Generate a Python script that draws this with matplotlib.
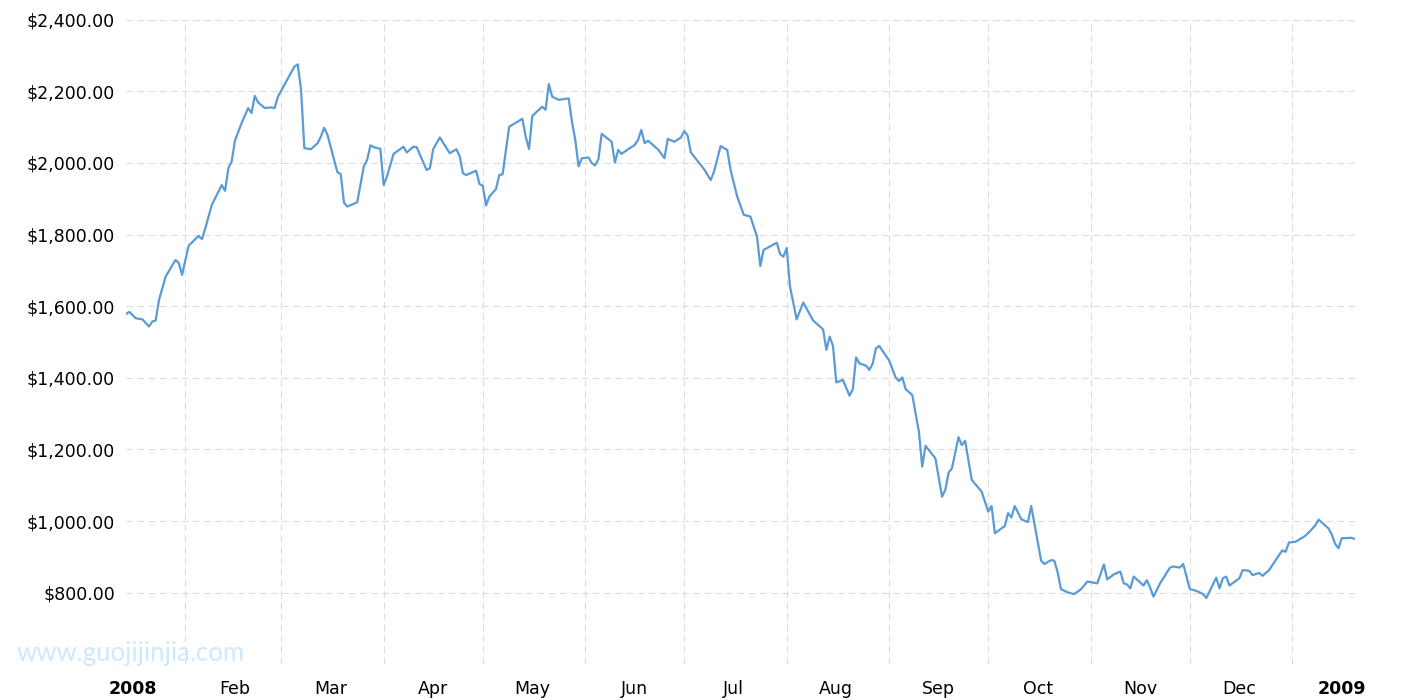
import matplotlib
matplotlib.use("Agg")
import matplotlib.pyplot as plt
import matplotlib.ticker as mticker
import pandas as pd

# Price readings (USD), one per date
dates = [
    "2008-01-14", "2008-01-15", "2008-01-17", "2008-01-19", "2008-01-21", "2008-01-22",
    "2008-01-23", "2008-01-24", "2008-01-26", "2008-01-29", "2008-01-30", "2008-01-31",
    "2008-02-01", "2008-02-02", "2008-02-05", "2008-02-06", "2008-02-07", "2008-02-09",
    "2008-02-12", "2008-02-13", "2008-02-14", "2008-02-15", "2008-02-16", "2008-02-18",
    "2008-02-20", "2008-02-21", "2008-02-22", "2008-02-23", "2008-02-25", "2008-02-27",
    "2008-02-28", "2008-02-29", "2008-03-05", "2008-03-06", "2008-03-07", "2008-03-08",
    "2008-03-10", "2008-03-12", "2008-03-13", "2008-03-14", "2008-03-15", "2008-03-18",
    "2008-03-19", "2008-03-20", "2008-03-21", "2008-03-24", "2008-03-26", "2008-03-27",
    "2008-03-28", "2008-03-29", "2008-03-31", "2008-04-01", "2008-04-02", "2008-04-04",
    "2008-04-07", "2008-04-08", "2008-04-10", "2008-04-11", "2008-04-14", "2008-04-15",
    "2008-04-16", "2008-04-18", "2008-04-21", "2008-04-23", "2008-04-24", "2008-04-25",
    "2008-04-26", "2008-04-29", "2008-04-30", "2008-05-01", "2008-05-02", "2008-05-03",
    "2008-05-05", "2008-05-06", "2008-05-07", "2008-05-09", "2008-05-13", "2008-05-14",
    "2008-05-15", "2008-05-16", "2008-05-19", "2008-05-20", "2008-05-21", "2008-05-22",
    "2008-05-24", "2008-05-27", "2008-05-28", "2008-05-29", "2008-05-30", "2008-05-31",
    "2008-06-02", "2008-06-03", "2008-06-04", "2008-06-05", "2008-06-06", "2008-06-09",
    "2008-06-10", "2008-06-11", "2008-06-12", "2008-06-14", "2008-06-16", "2008-06-17",
    "2008-06-18", "2008-06-19", "2008-06-20", "2008-06-23", "2008-06-25", "2008-06-26",
    "2008-06-28", "2008-06-30", "2008-07-01", "2008-07-02", "2008-07-03", "2008-07-07",
    "2008-07-09", "2008-07-10", "2008-07-12", "2008-07-14", "2008-07-15", "2008-07-17",
    "2008-07-19", "2008-07-21", "2008-07-23", "2008-07-24", "2008-07-25", "2008-07-29",
    "2008-07-30", "2008-07-31", "2008-08-01", "2008-08-02", "2008-08-04", "2008-08-06",
    "2008-08-09", "2008-08-12", "2008-08-13", "2008-08-14", "2008-08-15", "2008-08-16",
    "2008-08-18", "2008-08-20", "2008-08-21", "2008-08-22", "2008-08-23", "2008-08-25",
    "2008-08-26", "2008-08-27", "2008-08-28", "2008-08-29", "2008-09-01", "2008-09-03",
    "2008-09-04", "2008-09-05", "2008-09-06", "2008-09-08", "2008-09-10", "2008-09-11",
    "2008-09-12", "2008-09-15", "2008-09-17", "2008-09-18", "2008-09-19", "2008-09-20",
    "2008-09-22", "2008-09-23", "2008-09-24", "2008-09-26", "2008-09-29", "2008-10-01",
    "2008-10-02", "2008-10-03", "2008-10-06", "2008-10-07", "2008-10-08", "2008-10-09",
    "2008-10-11", "2008-10-13", "2008-10-14", "2008-10-17", "2008-10-18", "2008-10-20",
    "2008-10-21", "2008-10-22", "2008-10-23", "2008-10-25", "2008-10-27", "2008-10-29",
    "2008-10-31", "2008-11-03", "2008-11-05", "2008-11-06", "2008-11-08", "2008-11-10",
    "2008-11-11", "2008-11-12", "2008-11-13", "2008-11-14", "2008-11-17", "2008-11-18",
    "2008-11-19", "2008-11-20", "2008-11-22", "2008-11-25", "2008-11-26", "2008-11-28",
    "2008-11-29", "2008-12-01", "2008-12-03", "2008-12-05", "2008-12-06", "2008-12-09",
    "2008-12-10", "2008-12-11", "2008-12-12", "2008-12-13", "2008-12-16", "2008-12-17",
    "2008-12-19", "2008-12-20", "2008-12-22", "2008-12-23", "2008-12-25", "2008-12-27",
    "2008-12-29", "2008-12-30", "2008-12-31", "2009-01-02", "2009-01-05", "2009-01-06",
    "2009-01-08", "2009-01-09", "2009-01-12", "2009-01-13", "2009-01-14", "2009-01-15",
    "2009-01-16", "2009-01-19", "2009-01-20",
]
prices = [
    1578, 1584, 1566, 1563, 1543, 1557,
    1560, 1617, 1682, 1729, 1720, 1687,
    1729, 1769, 1796, 1787, 1817, 1883,
    1938, 1922, 1985, 2004, 2062, 2111,
    2153, 2139, 2187, 2169, 2153, 2155,
    2153, 2185, 2269, 2275, 2204, 2041,
    2038, 2055, 2073, 2098, 2078, 1974,
    1969, 1889, 1878, 1890, 1990, 2008,
    2049, 2044, 2039, 1938, 1962, 2025,
    2045, 2029, 2045, 2044, 1980, 1985,
    2038, 2071, 2027, 2038, 2019, 1971,
    1966, 1978, 1941, 1936, 1881, 1906,
    1927, 1966, 1968, 2101, 2123, 2073,
    2039, 2131, 2157, 2148, 2220, 2185,
    2176, 2180, 2115, 2064, 1990, 2013,
    2015, 1999, 1993, 2010, 2081, 2059,
    2001, 2036, 2025, 2038, 2050, 2064,
    2092, 2055, 2062, 2038, 2013, 2067,
    2059, 2071, 2089, 2076, 2029, 1982,
    1952, 1976, 2047, 2036, 1980, 1906,
    1855, 1850, 1794, 1712, 1757, 1777,
    1745, 1738, 1762, 1654, 1563, 1610,
    1560, 1535, 1478, 1515, 1489, 1387,
    1394, 1350, 1368, 1457, 1440, 1434,
    1422, 1439, 1482, 1489, 1448, 1400,
    1391, 1401, 1368, 1352, 1250, 1152,
    1210, 1175, 1068, 1087, 1135, 1147,
    1234, 1212, 1224, 1115, 1082, 1026,
    1042, 966, 986, 1022, 1010, 1042,
    1005, 997, 1042, 889, 880, 891,
    889, 857, 810, 801, 796, 809,
    831, 826, 879, 837, 851, 859,
    826, 823, 812, 845, 820, 835,
    814, 789, 826, 870, 873, 870,
    880, 810, 805, 796, 785, 842,
    812, 840, 845, 820, 840, 863,
    861, 849, 855, 847, 863, 891,
    918, 914, 940, 942, 959, 968,
    988, 1004, 979, 962, 936, 924,
    952, 953, 950,
]
month_labels = ["2008", "Feb", "Mar", "Apr", "May", "Jun", "Jul",
                "Aug", "Sep", "Oct", "Nov", "Dec", "2009"]

x = pd.to_datetime(dates)

plt.rcParams["font.family"] = ["DejaVu Sans"]
fig = plt.figure(figsize=(14.15, 7.0), dpi=100)
ax = fig.add_axes([0.089, 0.051, 0.8686, 0.921])

ax.plot(x, prices, color="#5b9bd5", linewidth=1.6, solid_joinstyle="round")

# y axis: dollar labels, no label on the bottom line
ax.yaxis.set_major_locator(mticker.MultipleLocator(200))
ax.yaxis.set_major_formatter(mticker.FuncFormatter(
    lambda v, p: "" if v < 700 else "${:,.2f}".format(v)))

# x axis: gridlines at month starts, labels in the middle of each month
month_starts = pd.date_range("2008-01-01", "2009-01-01", freq="MS")
ax.set_xticks(month_starts[1:])
ax.set_xticklabels([])
mids = month_starts + pd.Timedelta(days=15)
ax.set_xticks(mids, minor=True)
ax.set_xticklabels(month_labels, minor=True)
for lab in ax.get_xticklabels(minor=True):
    if lab.get_text() in ("2008", "2009"):
        lab.set_fontweight("bold")

ax.set_xlim(x[0], x[-1])
ax.set_ylim(600, 2400)

ax.tick_params(axis="both", which="both", length=0, labelsize=12.5, colors="black")
ax.tick_params(axis="y", pad=8)
ax.tick_params(axis="x", which="minor", pad=11)

ax.grid(True, which="major", color="#dcdcdc", linewidth=0.8, linestyle=(0, (6, 4)))
ax.set_axisbelow(True)
for s in ax.spines.values():
    s.set_visible(False)

# watermark
fig.text(0.012, 0.048, "www.guojijinjia.com", color="#cde9fb", fontsize=18.5,
         family=["Lato", "DejaVu Sans"], va="bottom", zorder=5)

fig.savefig("out.png", dpi=100)
